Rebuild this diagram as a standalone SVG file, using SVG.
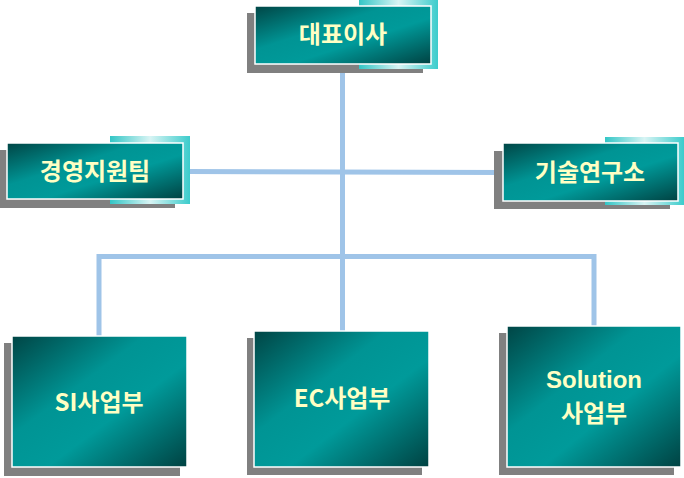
<svg xmlns="http://www.w3.org/2000/svg" width="684" height="478" viewBox="0 0 684 478">
<defs>
<linearGradient id="teal" x1="0" y1="0" x2="1" y2="1">
<stop offset="0" stop-color="#004545"/>
<stop offset="0.38" stop-color="#009494"/>
<stop offset="0.6" stop-color="#009a9a"/>
<stop offset="1" stop-color="#004242"/>
</linearGradient>
<linearGradient id="cyan" x1="0" y1="0" x2="1" y2="0">
<stop offset="0" stop-color="#33c6c6"/>
<stop offset="0.5" stop-color="#d8f4f4"/>
<stop offset="1" stop-color="#3ccccc"/>
</linearGradient>
</defs>
<style>
.shadow{fill:#808080}
.accent{fill:url(#cyan)}
.box{fill:url(#teal);stroke:#ffffff;stroke-width:1.5}
.label{font-family:"Noto Sans CJK KR","Noto Sans",sans-serif;font-weight:bold;font-size:24px;fill:#ffffc4;text-anchor:middle}
.latin{font-family:"Liberation Sans","Noto Sans",sans-serif}
.conn{stroke:#9fc4e8;stroke-width:5;fill:none}
</style>
<g id="connectors">
<line class="conn" x1="342.5" y1="64" x2="342.5" y2="331"/>
<line class="conn" x1="188" y1="171.5" x2="503" y2="172.5"/>
<polyline class="conn" points="99,336 99,256.5 594,256.5 594,326"/>
</g>
<g id="node-ceo">
<rect class="shadow" x="247" y="13" width="176" height="60"/>
<rect class="accent" x="359" y="0" width="79" height="69"/>
<rect class="box" x="255" y="6" width="176" height="58"/>
<text class="label" x="343" y="43">대표이사</text>
</g>
<g id="node-mgmt">
<rect class="shadow" x="0" y="150" width="175" height="58"/>
<rect class="accent" x="110" y="136" width="80" height="68"/>
<rect class="box" x="7" y="143" width="176" height="56"/>
<text class="label" x="95" y="180">경영지원팀</text>
</g>
<g id="node-lab">
<rect class="shadow" x="494" y="151" width="176" height="58"/>
<rect class="accent" x="605" y="137" width="79" height="68"/>
<rect class="box" x="503" y="143" width="175" height="58"/>
<text class="label" x="590" y="181">기술연구소</text>
</g>
<g id="node-si">
<rect class="shadow" x="4" y="343" width="176" height="133"/>
<rect class="box" x="12" y="336" width="175" height="131"/>
<text class="label" x="99" y="411">SI사업부</text>
</g>
<g id="node-ec">
<rect class="shadow" x="247" y="338" width="175" height="137"/>
<rect class="box" x="254" y="331" width="175" height="136"/>
<text class="label" x="342" y="407">EC사업부</text>
</g>
<g id="node-solution">
<rect class="shadow" x="499" y="333" width="175" height="142"/>
<rect class="box" x="507" y="326" width="174" height="141"/>
<text class="label latin" x="594" y="388">Solution</text>
<text class="label" x="594" y="421.5">사업부</text>
</g>
</svg>
